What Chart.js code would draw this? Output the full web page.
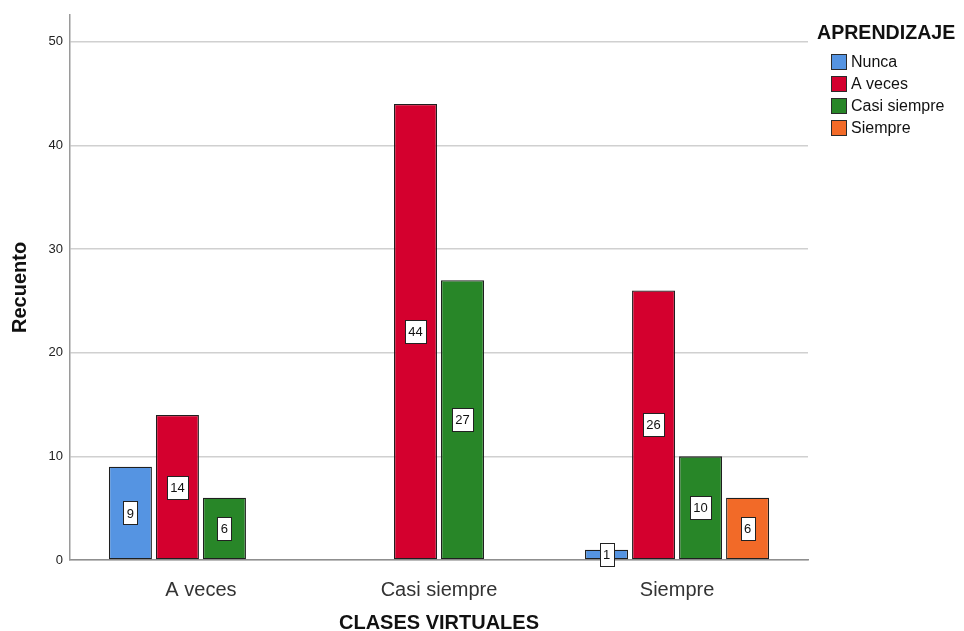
<!DOCTYPE html>
<html lang="es">
<head>
<meta charset="utf-8">
<title>Aprendizaje por clases virtuales</title>
<script src="https://cdn.jsdelivr.net/npm/chart.js@4.4.1/dist/chart.umd.min.js"></script>
<style>
  html, body { margin: 0; padding: 0; background: #fff; }
  #wrap { width: 964px; height: 631px; }
</style>
</head>
<body>
<div id="wrap"><canvas id="chart" width="964" height="631"></canvas></div>
<script>
// Counts per "CLASES VIRTUALES" answer, split by "APRENDIZAJE" answer
const categories = ['A veces', 'Casi siempre', 'Siempre'];
const seriesNames = ['Nunca', 'A veces', 'Casi siempre', 'Siempre'];
const nunca = [9, null, 1];
const aVeces = [14, 44, 26];
const casiSiempre = [6, 27, 10];
const siempre = [null, null, 6];
const yTicks = [0, 10, 20, 30, 40, 50];

const legendTitle = 'APRENDIZAJE';
const xTitle = 'CLASES VIRTUALES';
const yTitle = 'Recuento';

const FONT = '"Liberation Sans", Arial, sans-serif';
const palette = ['#5594e2', '#d4002e', '#288628', '#f26a28'];

/**
 * Turn one series into {x, y} points on the numeric category axis,
 * leaving out the empty cells so no bar is drawn there
 */
function toPoints(values) {
  return values
    .map((v, i) => ({ x: i, y: v }))
    .filter(p => p.y !== null);
}

const datasets = [nunca, aVeces, casiSiempre, siempre].map((values, i) => ({
  label: seriesNames[i],
  data: toPoints(values),
  backgroundColor: palette[i],
  borderColor: '#1f1f1f',
  borderWidth: 1.3,
  borderSkipped: false,
  categoryPercentage: 0.79,
  barPercentage: 0.915
}));

/**
 * White value boxes in the middle of each bar
 */
const valueBoxes = {
  id: 'valueBoxes',
  afterDatasetsDraw(chart) {
    const ctx = chart.ctx;
    ctx.save();
    ctx.font = '13px ' + FONT;
    ctx.textAlign = 'center';
    ctx.textBaseline = 'middle';
    chart.data.datasets.forEach((ds, di) => {
      const meta = chart.getDatasetMeta(di);
      meta.data.forEach((bar, j) => {
        const text = String(ds.data[j].y);
        const w = Math.round(ctx.measureText(text).width + 7);
        const h = 23;
        const cx = bar.x;
        const cy = (bar.y + bar.base) / 2;
        const left = Math.round(cx - w / 2) + 0.5;
        const top = Math.round(cy - h / 2) + 0.5;
        ctx.fillStyle = '#ffffff';
        ctx.fillRect(left, top, w, h);
        ctx.strokeStyle = '#222';
        ctx.lineWidth = 1;
        ctx.strokeRect(left, top, w, h);
        ctx.fillStyle = '#111';
        ctx.fillText(text, cx, cy + 1);
      });
    });
    ctx.restore();
  }
};

/**
 * Legend block on the right: bold title, then one swatch per series
 */
const sideLegend = {
  id: 'sideLegend',
  afterDraw(chart) {
    const ctx = chart.ctx;
    ctx.save();
    ctx.fillStyle = '#111';
    ctx.font = 'bold 19.6px ' + FONT;
    ctx.textAlign = 'left';
    ctx.textBaseline = 'alphabetic';
    ctx.fillText(legendTitle, 817, 39);

    ctx.font = '16px ' + FONT;
    ctx.textBaseline = 'middle';
    seriesNames.forEach((name, i) => {
      const cy = 62 + i * 22;
      ctx.fillStyle = palette[i];
      ctx.fillRect(831.5, cy - 7.5, 15, 15);
      ctx.strokeStyle = '#2b2b2b';
      ctx.lineWidth = 1;
      ctx.strokeRect(831.5, cy - 7.5, 15, 15);
      ctx.fillStyle = '#111';
      ctx.fillText(name, 851, cy + 1);
    });
    ctx.restore();
  }
};

Chart.defaults.font.family = FONT;
Chart.defaults.color = '#222';

new Chart(document.getElementById('chart'), {
  type: 'bar',
  data: { datasets },
  plugins: [valueBoxes, sideLegend],
  options: {
    responsive: false,
    animation: false,
    layout: { padding: { left: 0, right: 156, top: 13, bottom: 0 } },
    plugins: {
      legend: { display: false },
      tooltip: { enabled: false }
    },
    scales: {
      x: {
        type: 'linear',
        min: -0.55,
        max: 2.55,
        offset: false,
        afterBuildTicks(scale) {
          scale.ticks = categories.map((c, i) => ({ value: i }));
        },
        afterFit(scale) {
          scale.height = 71;
        },
        grid: { display: false },
        border: { display: true, color: '#8f8f8f', width: 1.5 },
        ticks: {
          autoSkip: false,
          maxRotation: 0,
          padding: 10,
          color: '#333',
          font: { size: 20 },
          callback: v => categories[v] ?? ''
        },
        title: {
          display: true,
          text: xTitle,
          color: '#111',
          font: { size: 20, weight: 'bold', lineHeight: 0.8 },
          padding: { top: 0, bottom: 0 }
        }
      },
      y: {
        min: 0,
        max: 52.6,
        afterBuildTicks(scale) {
          scale.ticks = yTicks.map(v => ({ value: v }));
        },
        afterFit(scale) {
          scale.width = 70;
        },
        grid: { color: '#d0d0d0', lineWidth: 1.5, drawTicks: false },
        border: { display: true, color: '#9a9a9a', width: 1.5 },
        ticks: {
          padding: 7,
          color: '#222',
          font: { size: 13 }
        },
        title: {
          display: true,
          text: yTitle,
          color: '#111',
          font: { size: 20, weight: 'bold' },
          padding: { top: 8, bottom: 0 }
        }
      }
    }
  }
});
</script>
</body>
</html>
